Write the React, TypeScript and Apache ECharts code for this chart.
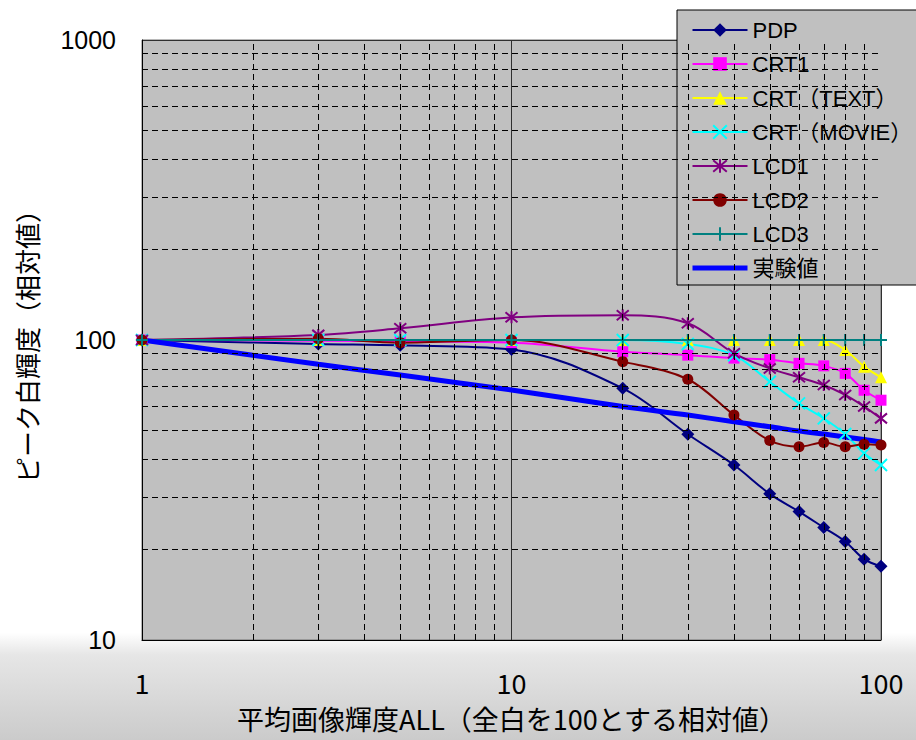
import React, { useEffect, useRef } from "react";
import * as echarts from "echarts";

const xValues = [1, 3, 5, 10, 20, 30, 40, 50, 60, 70, 80, 90, 100];
const pdp = [100, 97, 96, 93, 69, 48.5, 38.3, 30.7, 26.8, 23.7, 21.3, 18.6, 17.6];
const crt1 = [100, 99.5, 99, 98, 91.4, 89, 87, 86, 83.6, 82, 77.4, 68, 63];
const crtText = [100, 100, 100, 100, 100, 100, 100, 100, 100, 100, 92.6, 81.5, 75.1];
const crtMovie = [100, 100, 100, 100, 100, 97, 89, 72.6, 61.5, 54.8, 48.6, 41.9, 38.3];
const lcd1 = [100, 104, 109.4, 119, 121, 113.7, 90.3, 80.4, 75.1, 70.8, 65.6, 60, 54.8];
const lcd2 = [100, 101, 98, 100, 84.7, 74, 56.2, 46.2, 44.1, 45.5, 44.1, 44.9, 44.7];
const lcd3 = [100, 100, 100, 100, 100, 100, 100, 100, 100, 100, 100, 100, 100];
const experiment = [100, 83, 76.4, 68.1, 60, 56.2, 53.4, 51.4, 49.7, 48.6, 47.5, 46.6, 45.7];

const xMinorTicks = [2, 3, 4, 5, 6, 7, 8, 9, 20, 30, 40, 50, 60, 70, 80, 90];
const yMinorTicks = [20, 30, 40, 50, 60, 70, 80, 90, 200, 300, 400, 500, 600, 700, 800, 900];

const seriesNames = ["PDP", "CRT1", "CRT（TEXT）", "CRT（MOVIE）", "LCD1", "LCD2", "LCD3", "実験値"];

const LATIN = "'Liberation Sans', 'Noto Sans CJK JP', sans-serif";
const CJK = "'Noto Sans CJK JP', sans-serif";

const pair = (ys: number[]) => xValues.map((x, i) => [x, ys[i]]);

export default function App() {
  const ref = useRef<HTMLDivElement>(null);
  useEffect(() => {
    if (!ref.current) return;
    const chart = echarts.init(ref.current, undefined, { renderer: "svg" });
    const mk = (
      name: string,
      data: number[],
      color: string,
      symbol: string,
      symbolSize: number,
      stroke: boolean
    ) => ({
      name,
      type: "line",
      data: pair(data),
      smooth: 0.35,
      symbol,
      symbolSize,
      lineStyle: { color, width: 2 },
      itemStyle: stroke
        ? { color, borderColor: color, borderWidth: 2 }
        : { color, borderWidth: 0 },
    });
    chart.setOption({
      animation: false,
      backgroundColor: "transparent",
      grid: {
        left: 142,
        top: 40,
        width: 739,
        height: 600,
        show: true,
        backgroundColor: "#c0c0c0",
        borderColor: "#707070",
        borderWidth: 1,
      },
      legend: {
        orient: "vertical",
        left: 677,
        top: 10,
        padding: [9, 40, 6, 13],
        backgroundColor: "#c0c0c0",
        borderColor: "#000",
        borderWidth: 1,
        itemWidth: 55,
        itemHeight: 17,
        itemGap: 12,
        data: seriesNames.map((n) =>
          n === "実験値"
            ? { name: n, itemStyle: { opacity: 0 }, lineStyle: { width: 5, color: "#0000ff" } }
            : { name: n }
        ),
        textStyle: { fontSize: 22, fontFamily: LATIN, color: "#000" },
      },
      xAxis: {
        type: "log",
        logBase: 10,
        min: 1,
        max: 100,
        name: "平均画像輝度ALL（全白を100とする相対値）",
        nameLocation: "middle",
        nameGap: 65,
        nameTextStyle: { fontSize: 27, fontFamily: CJK, color: "#000" },
        axisLine: { show: true, lineStyle: { color: "#000", width: 1 } },
        axisTick: { show: false },
        axisLabel: {
          fontSize: 27,
          fontFamily: CJK,
          color: "#000",
          margin: 29,
          formatter: (v: number) => String(v),
        },
        splitLine: { show: true, lineStyle: { color: "#303030", width: 1, type: "solid" } },
      },
      yAxis: {
        type: "log",
        logBase: 10,
        min: 10,
        max: 1000,
        name: "ピーク白輝度（相対値）",
        nameLocation: "middle",
        nameGap: 103,
        nameRotate: 90,
        nameTextStyle: { fontSize: 26, fontFamily: CJK, color: "#000" },
        axisLine: { show: true, lineStyle: { color: "#000", width: 1 } },
        axisTick: { show: false },
        axisLabel: {
          fontSize: 25,
          fontFamily: LATIN,
          color: "#000",
          margin: 26,
          formatter: (v: number) => String(v),
        },
        splitLine: { show: true, lineStyle: { color: "#303030", width: 1, type: "solid" } },
      },
      series: [
        {
          name: "grid-minor",
          type: "line",
          data: [[1, 100]],
          symbol: "none",
          lineStyle: { opacity: 0 },
          silent: true,
          markLine: {
            silent: true,
            symbol: "none",
            label: { show: false },
            lineStyle: { color: "#000", width: 1, type: [6, 4] },
            data: [
              ...xMinorTicks.map((v) => ({ xAxis: v })),
              ...yMinorTicks.map((v) => ({ yAxis: v })),
            ],
          },
        },
        mk("PDP", pdp, "#000080", "diamond", 13, false),
        mk("CRT1", crt1, "#ff00ff", "rect", 11, false),
        mk("CRT（TEXT）", crtText, "#ffff00", "triangle", 12, false),
        mk("CRT（MOVIE）", crtMovie, "#00ffff", "path://M0,0L10,10M10,0L0,10", 12, true),
        mk("LCD1", lcd1, "#800080", "path://M0,0L10,10M10,0L0,10M5,-1L5,11", 12, true),
        mk("LCD2", lcd2, "#800000", "circle", 11, false),
        mk("LCD3", lcd3, "#008080", "path://M5,0L5,10M0,5L10,5", 12, true),
        {
          name: "実験値",
          type: "line",
          data: pair(experiment),
          smooth: 0.35,
          symbol: "none",
          lineStyle: { color: "#0000ff", width: 5 },
          itemStyle: { color: "#0000ff" },
        },
      ],
    });
    return () => chart.dispose();
  }, []);
  return (
    <div
      style={{
        position: "absolute",
        left: 0,
        top: 0,
        width: 916,
        height: 740,
        background:
          "linear-gradient(to bottom, #ffffff 0%, #ffffff 85.5%, #e6e6e6 88.5%, #cbcbcb 100%)",
      }}
    >
      <div ref={ref} style={{ width: 916, height: 740 }} />
    </div>
  );
}
